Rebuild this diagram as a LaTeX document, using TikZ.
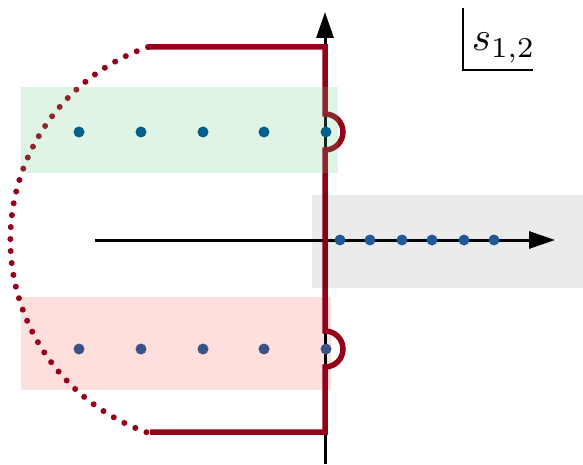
\documentclass[tikz,border=0pt]{standalone}
\usepackage{amsmath}
\usetikzlibrary{arrows.meta,positioning,calc}

\definecolor{contour}{RGB}{150,0,24}
\definecolor{polegreen}{RGB}{100,200,130}
\definecolor{polepink}{RGB}{255,222,222}
\definecolor{dotteal}{RGB}{0,96,140}
\definecolor{dotnavy}{RGB}{58,82,134}
\definecolor{dotblue}{RGB}{31,90,150}

\begin{document}
\begin{tikzpicture}[x=1pt, y=1pt, >={Triangle[length=26pt,width=17pt]},
    pole/.style={circle, fill=#1, inner sep=0pt, minimum size=11pt},
    redline/.style={contour, line width=5.5pt}]
    \useasboundingbox (0,0) rectangle (583,464);
    % lower band (below the contour)
    \fill[polepink] (21,74) rectangle (331,167);

    % axes
    \coordinate (west) at (95,224);
    \coordinate (east) at (555,224);
    \coordinate (south) at (325,0);
    \coordinate (north) at (325,452);
    \draw[->, line width=3pt] (west) -- (east);
    \draw[->, line width=3pt] (south) -- (north);

    % contour
    \coordinate (topleft) at (148,417);
    \coordinate (botleft) at (150,32);
    \draw[redline, line join=miter] (topleft) -- (325,417) -- (325,350)
        arc[start angle=90, end angle=-90, radius=18] -- (325,133)
        arc[start angle=90, end angle=-90, radius=18] -- (325,32) -- (botleft);
    \draw[redline, line width=6pt, line cap=round, dash pattern=on 0pt off 12pt] (topleft)
        arc[start angle=109, end angle=251, radius=204];

    % upper band and right band (over the contour)
    \fill[polegreen, opacity=0.2] (21,291) rectangle (338,377);
    \fill[black, opacity=0.08] (312,176) rectangle (583,269);

    % poles
    \foreach \i/\x in {1/79, 2/141, 3/203, 4/264, 5/326} {
        \node[pole=dotteal] (up\i) at (\x,332) {};
        \node[pole=dotnavy] (low\i) at (\x,115) {};
    }
    \foreach \i/\x in {1/340, 2/370, 3/402, 4/432, 5/464, 6/494}
        \node[pole=dotblue] (re\i) at (\x,224) {};

    % plane label
    \node[anchor=base west, inner sep=0pt, scale=4.1] (plane) at (471,413) {$s_{1,2}$};
    \coordinate (cornertop) at (463,456);
    \coordinate (cornerright) at (533,394);
    \draw[line width=2.2pt] (cornertop) |- (cornerright);
\end{tikzpicture}
\end{document}
